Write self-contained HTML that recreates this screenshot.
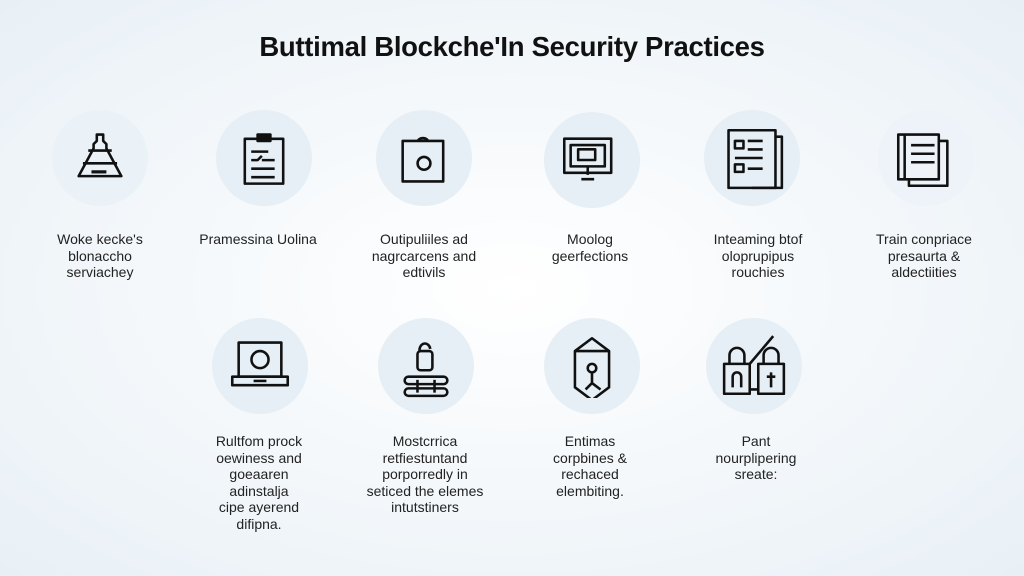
<!DOCTYPE html>
<html><head><meta charset="utf-8"><style>
*{margin:0;padding:0;box-sizing:border-box}
body{width:1024px;height:576px;overflow:hidden;position:relative;font-family:"Liberation Sans",sans-serif;
background:radial-gradient(ellipse at 50% 50%,#ffffff 0%,#f3f7fa 55%,#e8f0f6 100%);}
h1{position:absolute;top:31px;left:0;width:1024px;text-align:center;font-size:27.5px;font-weight:bold;color:#111;letter-spacing:-0.3px}
.c{position:absolute;width:96px;height:96px;border-radius:50%;background:#e6eff6}
.c svg{position:absolute;left:16px;top:16px;width:64px;height:64px;fill:none;stroke:#111;stroke-width:2.4;stroke-linejoin:round}
.t{position:absolute;width:170px;text-align:center;font-size:14px;line-height:16.5px;color:#222}
</style></head><body>
<h1>Buttimal Blockche'In Security Practices</h1>

<div class="c" style="left:52px;top:110px;background:#eaf2f8"><svg viewBox="0 0 60 60"><path d="M27 8h6v6l3 3v4l14 26H10l14-26v-4l3-3z"/><path d="M19 23h22M14 35h32"/><path d="M22 43h14" stroke-width="3"/></svg></div>
<div class="c" style="left:216px;top:110px"><svg viewBox="0 0 60 60"><rect x="12" y="12" width="36" height="42"/><rect x="24" y="8" width="12" height="6" fill="#111"/><path d="M18 24h16M18 32h6l4-4M28 32h12M18 40h22M18 48h22"/></svg></div>
<div class="c" style="left:376px;top:110px"><svg viewBox="0 0 60 60"><rect x="10" y="14" width="38" height="38"/><path d="M24 14a6 6 0 0 1 10 0"/><circle cx="30" cy="35" r="6"/></svg></div>
<div class="c" style="left:544px;top:112px"><svg viewBox="0 0 60 60"><rect x="4" y="10" width="44" height="32"/><rect x="10" y="16" width="32" height="20"/><rect x="17" y="20" width="16" height="10"/><path d="M26 36v8M20 48h12"/></svg></div>
<div class="c" style="left:704px;top:110px"><svg viewBox="0 0 60 60"><rect x="8" y="4" width="44" height="54"/><path d="M52 10h6v48H30"/><rect x="14" y="14" width="8" height="7"/><path d="M26 14h14M26 22h14M14 30h26M26 40h14"/><rect x="14" y="36" width="8" height="7"/></svg></div>
<div class="c" style="left:878px;top:110px;background:#edf3f8"><svg viewBox="0 0 60 60"><rect x="4" y="8" width="38" height="42"/><path d="M42 14h8v42H14v-6"/><path d="M10 8v42M16 18h22M16 26h22M16 34h22"/></svg></div>

<div class="t" style="left:15px;top:231px">Woke kecke's<br>blonaccho<br>serviachey</div>
<div class="t" style="left:173px;top:231px">Pramessina Uolina</div>
<div class="t" style="left:339px;top:231px">Outipuliiles ad<br>nagrcarcens and<br>edtivils</div>
<div class="t" style="left:505px;top:231px">Moolog<br>geerfections</div>
<div class="t" style="left:673px;top:231px">Inteaming btof<br>oloprupipus<br>rouchies</div>
<div class="t" style="left:839px;top:231px">Train conpriace<br>presaurta &amp;<br>aldectiities</div>

<div class="c" style="left:212px;top:318px"><svg viewBox="0 0 60 60"><rect x="10" y="8" width="40" height="32"/><path d="M4 40h52v8H4z"/><circle cx="30" cy="24" r="8"/><path d="M24 44h12"/></svg></div>
<div class="c" style="left:378px;top:318px"><svg viewBox="0 0 60 60"><rect x="22" y="16" width="14" height="18" rx="3"/><path d="M24 16a5 6 0 0 1 10-2"/><rect x="10" y="40" width="40" height="7" rx="3.5"/><rect x="10" y="51" width="40" height="7" rx="3.5"/><path d="M22 43v12M38 43v12"/></svg></div>
<div class="c" style="left:544px;top:318px"><svg viewBox="0 0 60 60"><path d="M30 4l16 12v34l-16 12-16-12V16z"/><circle cx="30" cy="32" r="4"/><path d="M30 36v10l-6 6M30 46l8 6M14 16h32"/></svg></div>
<div class="c" style="left:706px;top:318px"><svg viewBox="0 0 60 60"><rect x="2" y="28" width="24" height="28"/><rect x="34" y="28" width="24" height="28"/><path d="M7 28v-8a7 7 0 0 1 14 0v8M39 28v-8a7 7 0 0 1 14 0v8M26 52h8M26 28l22-26"/><path d="M10 50v-10a4 4 0 0 1 8 0v10M46 36v14M42 40h8"/></svg></div>

<div class="t" style="left:174px;top:433px">Rultfom prock<br>oewiness and<br>goeaaren<br>adinstalja<br>cipe ayerend<br>difipna.</div>
<div class="t" style="left:340px;top:433px;width:170px">Mostcrrica<br>retfiestuntand<br>porporredly in<br>seticed the elemes<br>intutstiners</div>
<div class="t" style="left:505px;top:433px">Entimas<br>corpbines &amp;<br>rechaced<br>elembiting.</div>
<div class="t" style="left:671px;top:433px">Pant<br>nourplipering<br>sreate:</div>
</body></html>
